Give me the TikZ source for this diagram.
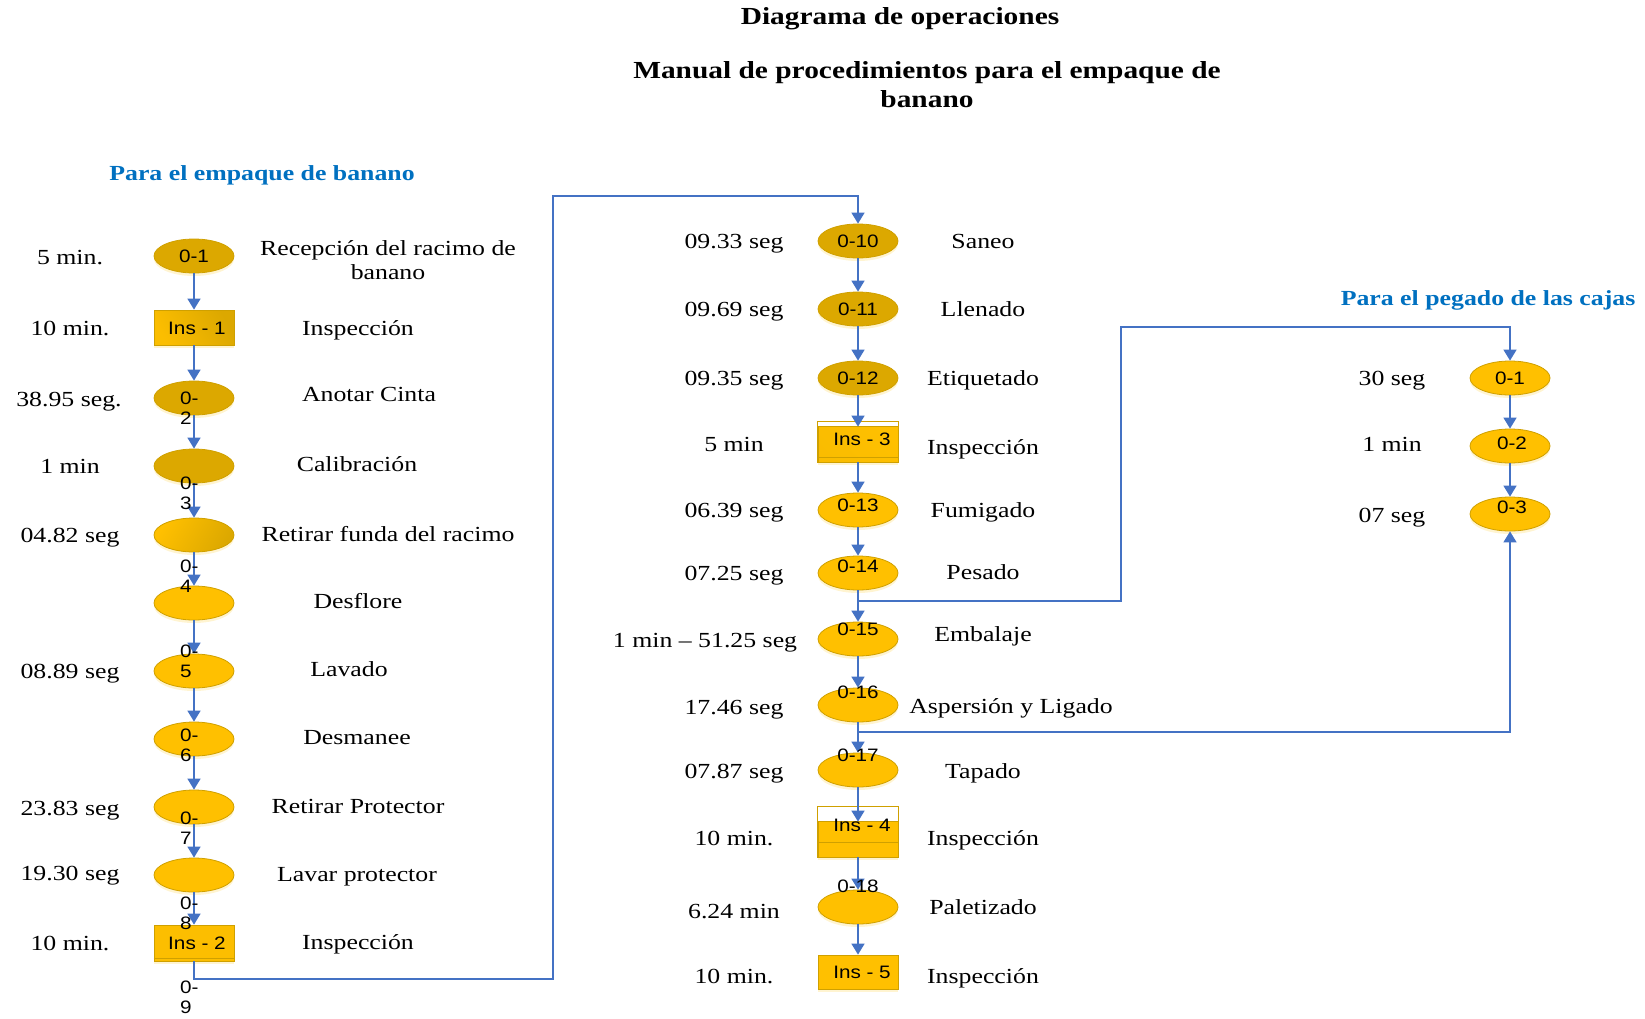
\documentclass[tikz,border=0pt]{standalone}
\usepackage{fontspec}
\setmainfont{Liberation Serif}[FakeStretch=1.2]
\newfontfamily\labsans{Liberation Sans}[FakeStretch=1.15]
\usetikzlibrary{arrows.meta,shapes.geometric,shadows,calc}

\definecolor{gold}{HTML}{FFC000}
\definecolor{darkgold}{HTML}{DCA800}
\definecolor{rim}{HTML}{CFA000}
\definecolor{flow}{HTML}{4472C4}
\definecolor{headblue}{HTML}{0070C0}

\tikzset{
  glow/.style={drop shadow={shadow xshift=0pt,shadow yshift=-3pt,fill=gold!40,opacity=0.45}},
  op/.style={ellipse, draw=rim, line width=0.8pt, fill=gold,
             minimum width=80pt, minimum height=34pt, inner sep=0pt, glow},
  opdark/.style={op, fill=darkgold},
  opshade/.style={op, shading=axis, left color=gold, right color=darkgold, shading angle=60},
  insbox/.style={rectangle, draw=rim, line width=0.8pt, fill=gold,
                 minimum width=80pt, inner sep=0pt, glow},
  rimline/.style={draw=rim, line width=0.8pt},
  code/.style={font=\labsans\fontsize{18}{20}\selectfont, inner sep=0pt},
  twoline/.style={code, align=left, anchor=west},
  txt/.style={font=\fontsize{21.5}{24}\selectfont, inner sep=0pt, anchor=base},
  heading/.style={font=\bfseries\fontsize{21.5}{24}\selectfont, text=headblue,
                  inner sep=0pt, anchor=base},
  titletxt/.style={font=\bfseries\fontsize{24.5}{29}\selectfont, inner sep=0pt, anchor=base},
  flowline/.style={draw=flow, line width=1.6pt},
  flowarrow/.style={flowline, -{Triangle[length=11pt,width=13pt]}},
}

\begin{document}
\begin{tikzpicture}[x=1pt,y=-1pt]
\useasboundingbox (0,0) rectangle (1645,1018);

% ---------- titles ----------
\node[titletxt] (t1) at (900,24) {Diagrama de operaciones};
\node[titletxt] (t2) at (927,78) {Manual de procedimientos para el empaque de};
\node[titletxt] (t3) at (927,107) {banano};
\node[heading] (h1) at (262,180) {Para el empaque de banano};
\node[heading] (h2) at (1488,305) {Para el pegado de las cajas};

% ---------- left column: banana packing ----------
\node[opdark] (o1) at (194,256) {};
\node[insbox, minimum height=35pt, shading=axis, left color=darkgold, right color=gold!90!darkgold, shading angle=-60] (i1) at (194,327.5) {};
\node[opdark] (o2) at (194,398) {};
\node[opdark] (o3) at (194,466) {};
\node[opshade] (o4) at (194,535) {};
\node[op] (o5) at (194,603) {};
\node[op] (o6) at (194,671) {};
\node[op] (o7) at (194,739) {};
\node[op] (o8) at (194,807) {};
\node[op] (o9) at (194,875) {};
\node[insbox, minimum height=36pt, fill=gold!92!darkgold] (i2) at (194,943) {};
\draw[rimline] ($(i2.south west)+(0,-3)$) -- ($(i2.south east)+(0,-3)$);

% ---------- middle column ----------
\node[opdark] (m10) at (858,241) {};
\node[opdark] (m11) at (858,309) {};
\node[opdark] (m12) at (858,378) {};
\node[insbox, minimum height=40pt, shading=axis, left color=gold, right color=gold!85!darkgold, shading angle=-45] (i3) at (858,442) {};
\fill[white] (i3.north west) rectangle ($(i3.north east)+(0,5)$);
\draw[rimline] (i3.north west) rectangle (i3.south east);
\draw[rimline] ($(i3.north west)+(0,5)$) -- ($(i3.north east)+(0,5)$);
\draw[rimline] ($(i3.south west)+(0,-5)$) -- ($(i3.south east)+(0,-5)$);
\node[op] (m13) at (858,510) {};
\node[op] (m14) at (858,573) {};
\node[op] (m15) at (858,639) {};
\node[op] (m16) at (858,705) {};
\node[op] (m17) at (858,770) {};
\node[insbox, minimum height=50pt] (i4) at (858,832) {};
\fill[white] (i4.north west) rectangle ($(i4.north east)+(0,15)$);
\draw[rimline] (i4.north west) rectangle (i4.south east);
\draw[rimline] ($(i4.north west)+(0,15)$) -- ($(i4.north east)+(0,15)$);
\draw[rimline] ($(i4.south west)+(0,-15)$) -- ($(i4.south east)+(0,-15)$);
\node[op] (m18) at (858,907) {};
\node[insbox, minimum height=34pt] (i5) at (858,972) {};

% ---------- right column: box gluing ----------
\node[op] (p1) at (1510,378) {};
\node[op] (p2) at (1510,446) {};
\node[op] (p3) at (1510,514) {};

% ---------- connectors ----------
\draw[flowarrow] (o1) -- (i1);
\draw[flowarrow] (i1) -- (o2);
\draw[flowarrow] (o2) -- (o3);
\draw[flowarrow] (o3) -- (o4);
\draw[flowarrow] (o4) -- (o5);
\draw[flowarrow] (o5) -- (o6);
\draw[flowarrow] (o6) -- (o7);
\draw[flowarrow] (o7) -- (o8);
\draw[flowarrow] (o8) -- (o9);
\draw[flowarrow] (o9) -- (i2);

\coordinate (r1) at (553,979);
\coordinate (r2) at (858,196);
\draw[flowarrow] (i2.south) |- (r1) |- (r2) -- (m10.north);

\draw[flowarrow] (m10) -- (m11);
\draw[flowarrow] (m11) -- (m12);
\draw[flowarrow] (m12.south) -- ($(i3.north)+(0,5)$);
\draw[flowarrow] (i3) -- (m13);
\draw[flowarrow] (m13) -- (m14);
\draw[flowarrow] (m14) -- (m15);
\draw[flowarrow] (m15) -- (m16);
\draw[flowarrow] (m16) -- (m17);
\draw[flowarrow] (m17.south) -- ($(i4.north)+(0,15)$);
\draw[flowarrow] (i4) -- (m18);
\draw[flowarrow] (m18) -- (i5);

\coordinate (k1) at (858,601);
\coordinate (k2) at (1121,327);
\draw[flowarrow] (k1) -| (k2) -| (p1.north);
\coordinate (k3) at (858,732);
\draw[flowarrow] (k3) -| (p3.south);

\draw[flowarrow] (p1) -- (p2);
\draw[flowarrow] (p2) -- (p3);

% ---------- operation codes ----------
\node[code] (c01) at (194,256) {0-1};
\node[code] (ci1) at (197,328) {Ins - 1};
\node[twoline] (c02) at (180,408) {0-\\2};
\node[twoline] (c03) at (180,493) {0-\\3};
\node[twoline] (c04) at (180,576) {0-\\4};
\node[twoline] (c05) at (180,661) {0-\\5};
\node[twoline] (c06) at (180,745) {0-\\6};
\node[twoline] (c07) at (180,828) {0-\\7};
\node[twoline] (c08) at (180,913) {0-\\8};
\node[code] (ci2) at (197,943) {Ins - 2};
\node[twoline] (c09) at (180,997) {0-\\9};

\node[code] (c10) at (858,241) {0-10};
\node[code] (c11) at (858,309) {0-11};
\node[code] (c12) at (858,378) {0-12};
\node[code] (ci3) at (862,439) {Ins - 3};
\node[code] (c13) at (858,505) {0-13};
\node[code] (c14) at (858,566) {0-14};
\node[code] (c15) at (858,629) {0-15};
\node[code] (c16) at (858,692) {0-16};
\node[code] (c17) at (858,755) {0-17};
\node[code] (ci4) at (862,825) {Ins - 4};
\node[code] (c18) at (858,886) {0-18};
\node[code] (ci5) at (862,972) {Ins - 5};

\node[code] (d1) at (1510,378) {0-1};
\node[code] (d2) at (1512,443) {0-2};
\node[code] (d3) at (1512,507) {0-3};

% ---------- times, left ----------
\node[txt] (tl1) at (70,264) {5 min.};
\node[txt] (tl2) at (70,335) {10 min.};
\node[txt] (tl3) at (69,406) {38.95 seg.};
\node[txt] (tl4) at (70,473) {1 min};
\node[txt] (tl5) at (70,542) {04.82 seg};
\node[txt] (tl6) at (70,678) {08.89 seg};
\node[txt] (tl7) at (70,815) {23.83 seg};
\node[txt] (tl8) at (70,880) {19.30 seg};
\node[txt] (tl9) at (70,950) {10 min.};

% ---------- activities, left ----------
\node[txt, anchor=center, align=center] (al1) at (388,260) {Recepción del racimo de\\banano};
\node[txt] (al2) at (358,335) {Inspección};
\node[txt] (al3) at (369,401) {Anotar Cinta};
\node[txt] (al4) at (357,471) {Calibración};
\node[txt] (al5) at (388,541) {Retirar funda del racimo};
\node[txt] (al6) at (358,608) {Desflore};
\node[txt] (al7) at (349,676) {Lavado};
\node[txt] (al8) at (357,744) {Desmanee};
\node[txt] (al9) at (358,813) {Retirar Protector};
\node[txt] (al10) at (357,881) {Lavar protector};
\node[txt] (al11) at (358,949) {Inspección};

% ---------- times, middle ----------
\node[txt] (tm1) at (734,248) {09.33 seg};
\node[txt] (tm2) at (734,316) {09.69 seg};
\node[txt] (tm3) at (734,385) {09.35 seg};
\node[txt] (tm4) at (734,451) {5 min};
\node[txt] (tm5) at (734,517) {06.39 seg};
\node[txt] (tm6) at (734,580) {07.25 seg};
\node[txt] (tm7) at (705,647) {1 min – 51.25 seg};
\node[txt] (tm8) at (734,714) {17.46 seg};
\node[txt] (tm9) at (734,778) {07.87 seg};
\node[txt] (tm10) at (734,845) {10 min.};
\node[txt] (tm11) at (734,918) {6.24 min};
\node[txt] (tm12) at (734,983) {10 min.};

% ---------- activities, middle ----------
\node[txt] (am1) at (983,248) {Saneo};
\node[txt] (am2) at (983,316) {Llenado};
\node[txt] (am3) at (983,385) {Etiquetado};
\node[txt] (am4) at (983,454) {Inspección};
\node[txt] (am5) at (983,517) {Fumigado};
\node[txt] (am6) at (983,579) {Pesado};
\node[txt] (am7) at (983,641) {Embalaje};
\node[txt] (am8) at (1011,713) {Aspersión y Ligado};
\node[txt] (am9) at (983,778) {Tapado};
\node[txt] (am10) at (983,845) {Inspección};
\node[txt] (am11) at (983,914) {Paletizado};
\node[txt] (am12) at (983,983) {Inspección};

% ---------- times, right ----------
\node[txt] (tr1) at (1392,385) {30 seg};
\node[txt] (tr2) at (1392,451) {1 min};
\node[txt] (tr3) at (1392,522) {07 seg};
\end{tikzpicture}
\end{document}
